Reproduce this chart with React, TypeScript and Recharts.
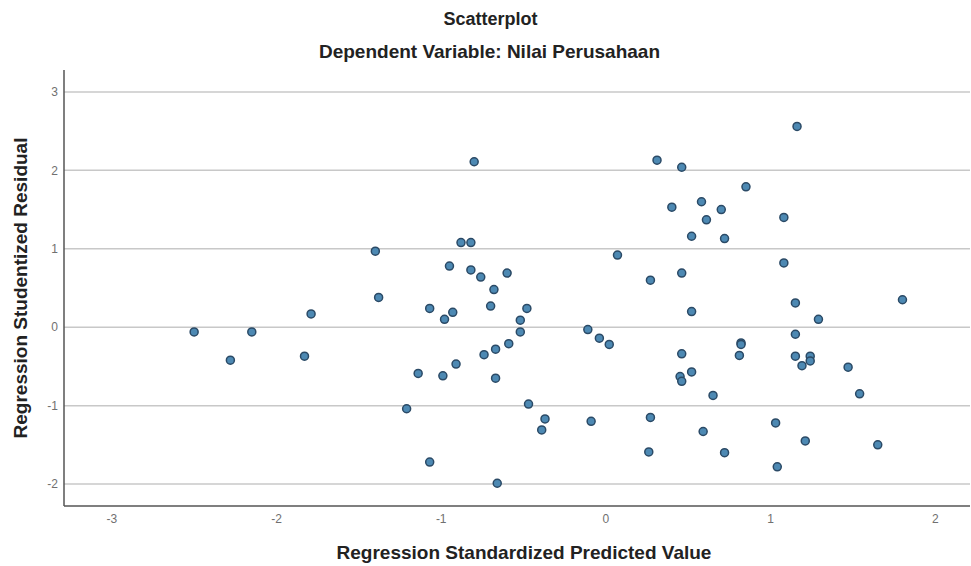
import { ScatterChart, Scatter, XAxis, YAxis, ReferenceLine } from 'recharts';

// predicted (x) and studentized residual (y)
const predicted = [
  -2.5, -2.28, -2.15, -1.83, -1.79, -1.4, -1.38, -1.21, -1.14, -1.07,
  -1.07, -0.99, -0.98, -0.95, -0.93, -0.91, -0.88, -0.82, -0.8, -0.82,
  -0.76, -0.74, -0.7, -0.68, -0.67, -0.67, -0.66, -0.6, -0.59, -0.52,
  -0.52, -0.48, -0.47, -0.39, -0.37, -0.11, -0.04, 0.02, -0.09, 0.07,
  0.27, 0.27, 0.26, 0.31, 0.4, 0.46, 0.46, 0.46, 0.45, 0.46,
  0.52, 0.52, 0.52, 0.58, 0.61, 0.59, 0.65, 0.7, 0.72, 0.72,
  0.81, 0.82, 0.82, 0.85, 1.03, 1.04, 1.08, 1.08, 1.15, 1.15,
  1.15, 1.16, 1.19, 1.21, 1.24, 1.24, 1.29, 1.47, 1.54, 1.65,
  1.8,
];
const residual = [
  -0.06, -0.42, -0.06, -0.37, 0.17, 0.97, 0.38, -1.04, -0.59, 0.24,
  -1.72, -0.62, 0.1, 0.78, 0.19, -0.47, 1.08, 1.08, 2.11, 0.73,
  0.64, -0.35, 0.27, 0.48, -0.28, -0.65, -1.99, 0.69, -0.21, -0.06,
  0.09, 0.24, -0.98, -1.31, -1.17, -0.03, -0.14, -0.22, -1.2, 0.92,
  0.6, -1.15, -1.59, 2.13, 1.53, 2.04, 0.69, -0.34, -0.63, -0.69,
  1.16, 0.2, -0.57, 1.6, 1.37, -1.33, -0.87, 1.5, 1.13, -1.6,
  -0.36, -0.2, -0.22, 1.79, -1.22, -1.78, 0.82, 1.4, -0.09, 0.31,
  -0.37, 2.56, -0.49, -1.45, -0.37, -0.43, 0.1, -0.51, -0.85, -1.5,
  0.35,
];
const xTicks = [-3, -2, -1, 0, 1, 2];
const yTicks = [-2, -1, 0, 1, 2, 3];

const points = predicted.map((x, i) => ({ x, y: residual[i] }));

const font = '"Liberation Sans", Arial, sans-serif';

const Dot = (props: any) => (
  <circle cx={props.cx} cy={props.cy} r={4} fill="#4d89b3" stroke="#2b4a66" strokeWidth={1.5} />
);

export default function App() {
  return (
    <div style={{ position: 'absolute', left: 0, top: 0, width: 971, height: 566, background: '#fff', fontFamily: font }}>
      <div style={{ position: 'absolute', left: 5, top: 10, width: 971, textAlign: 'center', fontSize: 18, fontWeight: 'bold', lineHeight: 1, color: '#222' }}>
        Scatterplot
      </div>
      <div style={{ position: 'absolute', left: 4, top: 42, width: 971, textAlign: 'center', fontSize: 19, fontWeight: 'bold', lineHeight: 1, color: '#222' }}>
        Dependent Variable: Nilai Perusahaan
      </div>
      <ScatterChart width={971} height={566} margin={{ top: 70, right: 1, left: 0, bottom: 0 }}>
        <XAxis
          type="number"
          dataKey="x"
          domain={[-3.29, 2.21]}
          ticks={xTicks}
          allowDataOverflow
          height={60}
          tickLine={false}
          axisLine={{ stroke: '#555', strokeWidth: 1.5 }}
          tick={{ fontSize: 12, fill: '#707070', fontFamily: font }}
          label={{
            value: 'Regression Standardized Predicted Value',
            position: 'insideBottom',
            offset: 7,
            dx: 7,
            style: { fontSize: 19, fontWeight: 'bold', fill: '#222', fontFamily: font },
          }}
        />
        <YAxis
          type="number"
          dataKey="y"
          domain={[-2.28, 3.28]}
          ticks={yTicks}
          allowDataOverflow
          width={64}
          tickLine={false}
          tickMargin={0}
          axisLine={{ stroke: '#555', strokeWidth: 1.5 }}
          tick={{ fontSize: 12, fill: '#707070', fontFamily: font }}
          label={{
            value: 'Regression Studentized Residual',
            angle: -90,
            position: 'insideLeft',
            offset: 20,
            style: { textAnchor: 'middle', fontSize: 19, fontWeight: 'bold', fill: '#222', fontFamily: font },
          }}
        />
        {yTicks.map((t) => (
          <ReferenceLine key={t} y={t} stroke="#c8c8c8" strokeWidth={1.5} />
        ))}
        <Scatter data={points} shape={Dot} isAnimationActive={false} />
      </ScatterChart>
    </div>
  );
}
